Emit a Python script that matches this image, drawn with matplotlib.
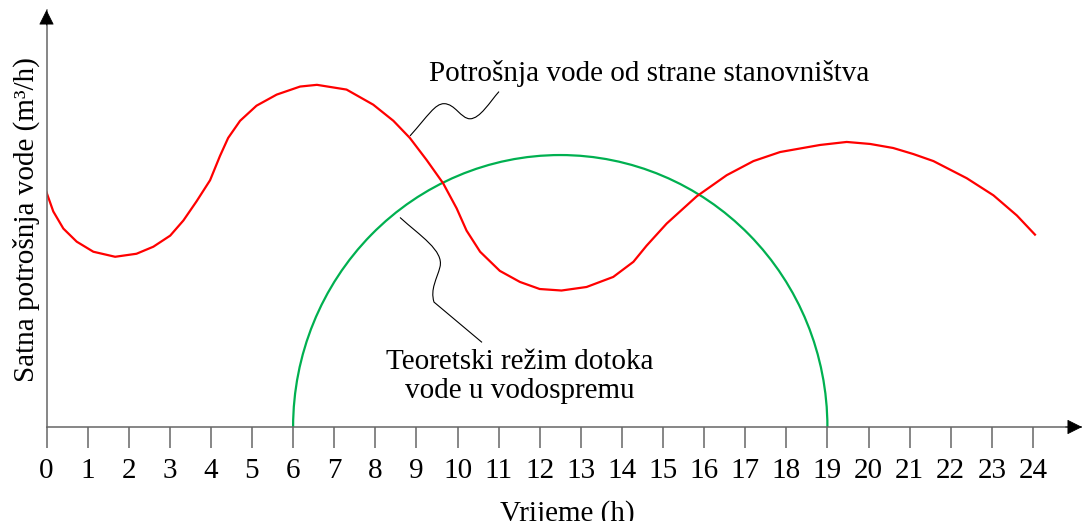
import numpy as np
import matplotlib.pyplot as plt
from matplotlib.patches import Arc, PathPatch
from matplotlib.path import Path

plt.rcParams['font.family'] = ['Liberation Serif', 'DejaVu Serif']

# hourly consumption curve (arbitrary units)
hours = [0.0, 0.165, 0.41, 0.735, 1.14, 1.67, 2.19, 2.60, 3.01, 3.33, 3.65,
         3.98, 4.22, 4.42, 4.71, 5.11, 5.60, 6.17, 6.58, 7.30, 7.95, 8.44,
         8.84, 9.25, 9.65, 9.98, 10.22, 10.55, 11.03, 11.52, 12.0, 12.53,
         13.14, 13.79, 14.28, 14.60, 15.09, 15.82, 16.55, 17.20, 17.85,
         18.82, 19.47, 20.04, 20.60, 21.09, 21.58, 22.39, 23.04, 23.61, 24.05]
consumption = [23.3, 21.4, 19.7, 18.4, 17.4, 16.9, 17.2, 17.9, 19.0, 20.5, 22.4,
               24.5, 26.9, 28.7, 30.4, 31.9, 33.0, 33.8, 33.97, 33.5, 32.0, 30.4,
               28.7, 26.5, 24.2, 21.7, 19.5, 17.4, 15.5, 14.4, 13.7, 13.55,
               13.9, 14.9, 16.4, 18.0, 20.2, 22.9, 25.0, 26.4, 27.3,
               28.0, 28.3, 28.1, 27.7, 27.1, 26.4, 24.7, 23.0, 21.0, 19.1]

# theoretical inflow: half-ellipse from 6 h to 19 h
inflow_start, inflow_end, inflow_peak = 6, 19, 27.0

xticks = list(range(0, 25))

fig = plt.figure(figsize=(10.82, 5.21), dpi=100)
ax = fig.add_axes([46.5 / 1082, 94 / 521, 1 - 46.5 / 1082, 417 / 521])
ax.set_xlim(0, (1082 - 46.5) / 41.1)
ax.set_ylim(0, 41.4)

ax.plot(hours, consumption, color='#ff0000', lw=1.6, solid_joinstyle='round')

center = (inflow_start + inflow_end) / 2
ax.add_patch(Arc((center, 0), inflow_end - inflow_start, 2 * inflow_peak,
                 theta1=0, theta2=180, color='#00b050', lw=1.6))

# axes with arrows
for s in ['top', 'right']:
    ax.spines[s].set_visible(False)
for s in ['bottom', 'left']:
    ax.spines[s].set_color('#666666')
    ax.spines[s].set_linewidth(1.1)
xmax = ax.get_xlim()[1]
ymax = ax.get_ylim()[1]
ax.annotate('', xy=(xmax, 0), xytext=(xmax - 0.4, 0),
            arrowprops=dict(arrowstyle='-|>', mutation_scale=24, color='black',
                            lw=0.5, shrinkA=0, shrinkB=0), annotation_clip=False)
ax.annotate('', xy=(0, ymax), xytext=(0, ymax - 1.5),
            arrowprops=dict(arrowstyle='-|>', mutation_scale=24, color='black',
                            lw=0.5, shrinkA=0, shrinkB=0), annotation_clip=False)

ax.set_xticks(xticks)
ax.set_xticklabels([str(t) for t in xticks], fontsize=21)
ax.tick_params(axis='x', direction='out', length=15, width=1.1, color='#666666', pad=7)
ax.set_yticks([])

fig.text(26 / 1082, 1 - 220 / 521, 'Satna potrošnja vode (m³/h)', rotation=90,
         ha='center', va='center', fontsize=21)
fig.text(567 / 1082, 1 - 521 / 521, 'Vrijeme (h)', ha='center', va='baseline', fontsize=21)

ax.text(9.31, 34.4, 'Potrošnja vode od strane stanovništva', fontsize=21,
        ha='left', va='baseline')
ax.text(11.52, 5.0, 'Teoretski režim dotoka\nvode u vodospremu', fontsize=21,
        ha='center', va='center', linespacing=1.15)


# wavy leader lines
def to_data(px, py):
    return ((px - 46.5) / 41.1, (427 - py) / 10)


top_pts = [(410, 138), (428, 118), (435, 106), (444, 106),
           (455, 106), (461, 121), (470, 121),
           (480, 121), (490, 104), (499, 94)]
top_codes = [Path.MOVETO] + [Path.CURVE4] * 9
ax.add_patch(PathPatch(Path([to_data(*p) for p in top_pts], top_codes),
                       fc='none', ec='black', lw=0.8))

bot_pts = [(400, 219), (420, 237), (444, 252), (440, 268),
           (437, 280), (430, 290), (434, 303), (482, 343)]
bot_codes = [Path.MOVETO] + [Path.CURVE4] * 6 + [Path.LINETO]
ax.add_patch(PathPatch(Path([to_data(*p) for p in bot_pts], bot_codes),
                       fc='none', ec='black', lw=0.8))

fig.savefig('out.png', dpi=100)
